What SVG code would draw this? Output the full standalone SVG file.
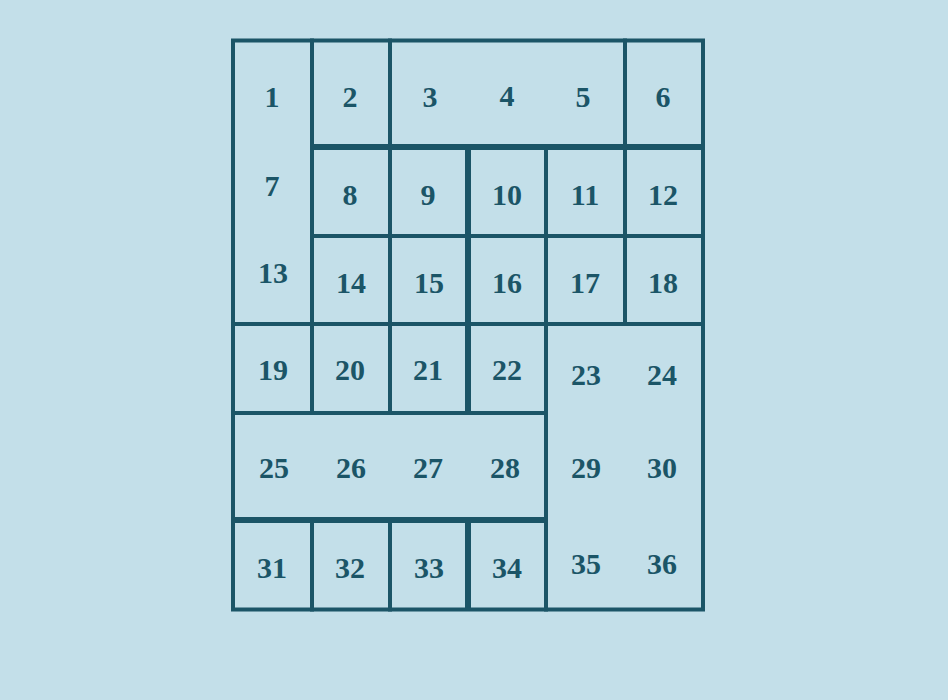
<svg xmlns="http://www.w3.org/2000/svg" width="948" height="700" viewBox="0 0 948 700">
<style>
.bg{fill:#c3dfe9}
.ln{stroke:#1b5567;stroke-width:4;fill:none;stroke-linecap:square}
.th{stroke:#1b5567;stroke-width:6;fill:none;stroke-linecap:butt}
text{font-family:"Liberation Serif",serif;font-size:30px;font-weight:bold;fill:#1b5567;text-anchor:middle}
</style>
<rect class="bg" x="0" y="0" width="948" height="700"/>
<g id="connectors">
<rect class="ln" x="233" y="40.5" width="470" height="569"/>
<path class="ln" d="M312 40.5V413M312 520V609.5M390 40.5V413M390 520V609.5M546 147V609.5M625 40.5V324"/>
<path class="ln" d="M312 236H703M233 324H703M233 413H546"/>
<path class="th" d="M310 147H705M468 145V415M468 518V611M231 520H548"/>
</g>
<g id="c1"><text x="272" y="107">1</text></g>
<g id="c2"><text x="350" y="107">2</text></g>
<g id="c3"><text x="430" y="107">3</text></g>
<g id="c4"><text x="507" y="106">4</text></g>
<g id="c5"><text x="583" y="107">5</text></g>
<g id="c6"><text x="663" y="107">6</text></g>
<g id="c7"><text x="272" y="196">7</text></g>
<g id="c8"><text x="350" y="205">8</text></g>
<g id="c9"><text x="428" y="205">9</text></g>
<g id="c10"><text x="507" y="205">10</text></g>
<g id="c11"><text x="585" y="205">11</text></g>
<g id="c12"><text x="663" y="205">12</text></g>
<g id="c13"><text x="273" y="283">13</text></g>
<g id="c14"><text x="351" y="293">14</text></g>
<g id="c15"><text x="429" y="293">15</text></g>
<g id="c16"><text x="507" y="293">16</text></g>
<g id="c17"><text x="585" y="293">17</text></g>
<g id="c18"><text x="663" y="293">18</text></g>
<g id="c19"><text x="273" y="380">19</text></g>
<g id="c20"><text x="350" y="380">20</text></g>
<g id="c21"><text x="428" y="380">21</text></g>
<g id="c22"><text x="507" y="380">22</text></g>
<g id="c23"><text x="586" y="385">23</text></g>
<g id="c24"><text x="662" y="385">24</text></g>
<g id="c25"><text x="274" y="478">25</text></g>
<g id="c26"><text x="351" y="478">26</text></g>
<g id="c27"><text x="428" y="478">27</text></g>
<g id="c28"><text x="505" y="478">28</text></g>
<g id="c29"><text x="586" y="478">29</text></g>
<g id="c30"><text x="662" y="478">30</text></g>
<g id="c31"><text x="272" y="578">31</text></g>
<g id="c32"><text x="350" y="578">32</text></g>
<g id="c33"><text x="429" y="578">33</text></g>
<g id="c34"><text x="507" y="578">34</text></g>
<g id="c35"><text x="586" y="574">35</text></g>
<g id="c36"><text x="662" y="574">36</text></g>
</svg>
